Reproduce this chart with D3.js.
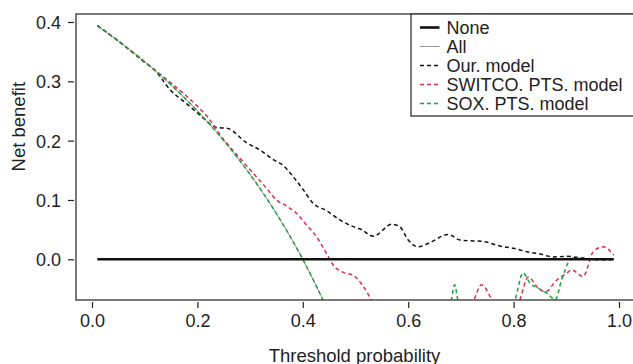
<!DOCTYPE html>
<html>
<head>
<meta charset="utf-8">
<script src="https://cdn.jsdelivr.net/npm/d3@7"></script>
<style>
  body { margin: 0; background: #fff; }
  text { font-family: "Liberation Sans", Arial, sans-serif; fill: #222; }
</style>
</head>
<body>
<svg id="chart"></svg>
<script>
// values, [threshold, net benefit]
const xTicks = [0, 0.2, 0.4, 0.6, 0.8, 1.0]
const yTicks = [0, 0.1, 0.2, 0.3, 0.4]

const noneLine = [[0.01, 0], [0.99, 0]]

const allLine = [[0.01, 0.394], [0.05, 0.368], [0.1, 0.333], [0.15, 0.294], [0.2, 0.25],
  [0.25, 0.2], [0.3, 0.143], [0.35, 0.077], [0.375, 0.04], [0.4, 0.0], [0.425, -0.044], [0.45, -0.09]]

const ourModel = [[0.01, 0.394], [0.05, 0.368], [0.1, 0.332], [0.12, 0.318], [0.148, 0.286],
  [0.18, 0.262], [0.205, 0.243], [0.237, 0.222], [0.256, 0.221], [0.294, 0.196], [0.319, 0.184],
  [0.344, 0.168], [0.363, 0.158], [0.382, 0.139], [0.401, 0.117], [0.42, 0.094], [0.445, 0.082],
  [0.471, 0.066], [0.496, 0.055], [0.509, 0.051], [0.534, 0.039], [0.569, 0.059], [0.584, 0.055],
  [0.6, 0.0325], [0.619, 0.021], [0.641, 0.028], [0.676, 0.042], [0.698, 0.0325], [0.724, 0.031],
  [0.743, 0.03], [0.774, 0.0224], [0.8, 0.0185], [0.825, 0.0128], [0.85, 0.009], [0.875, 0.004],
  [0.9, 0.005], [0.932, 0.002], [0.97, -0.001], [0.99, 0.0]]

const switcoModel = [[0.01, 0.394], [0.05, 0.368], [0.1, 0.333], [0.15, 0.297], [0.173, 0.28],
  [0.2, 0.258], [0.218, 0.241], [0.249, 0.203], [0.275, 0.176], [0.306, 0.145], [0.331, 0.12],
  [0.35, 0.1], [0.369, 0.09], [0.388, 0.0775], [0.407, 0.058], [0.426, 0.038], [0.445, 0.01],
  [0.458, -0.01], [0.477, -0.022], [0.496, -0.027], [0.515, -0.046], [0.535, -0.075],
  [0.6, -0.12], [0.7, -0.11], [0.724, -0.07], [0.739, -0.043], [0.76, -0.07], [0.78, -0.1],
  [0.805, -0.085], [0.812, -0.068], [0.828, -0.03], [0.847, -0.049], [0.86, -0.055],
  [0.882, -0.035], [0.9, -0.024], [0.91, -0.018], [0.932, -0.029], [0.951, 0.0128],
  [0.97, 0.021], [0.99, 0.007]]

const soxModel = [[0.01, 0.394], [0.05, 0.368], [0.1, 0.333], [0.15, 0.294], [0.2, 0.25],
  [0.25, 0.2], [0.3, 0.143], [0.35, 0.077], [0.375, 0.04], [0.4, 0.0], [0.425, -0.044],
  [0.45, -0.09], [0.5, -0.15], [0.66, -0.15], [0.682, -0.068], [0.688, -0.043], [0.694, -0.068],
  [0.71, -0.13], [0.78, -0.13], [0.803, -0.068], [0.818, -0.023], [0.831, -0.04], [0.847, -0.049],
  [0.863, -0.057], [0.879, -0.068], [0.891, -0.035], [0.907, -0.001], [0.913, 0.002],
  [0.95, 0.0], [0.99, 0.0]]

const legendLabels = ["None", "All", "Our. model", "SWITCO. PTS. model", "SOX. PTS. model"]

const width = 633, height = 364
const box = {left: 76, top: 14, right: 634, bottom: 300}

const svg = d3.select("#chart").attr("width", width).attr("height", height)

const x = d3.scaleLinear().domain([0, 1]).range([92, 619])
const y = d3.scaleLinear().domain([0, 0.4]).range([259.3, 22])

svg.append("clipPath").attr("id", "plotclip")
  .append("rect")
  .attr("x", box.left).attr("y", box.top)
  .attr("width", box.right - box.left).attr("height", box.bottom - box.top)

// axes, R style: ticks detached from the box
const xAxis = svg.append("g")
  .attr("transform", `translate(0,${box.bottom + 2})`)
  .call(d3.axisBottom(x).tickValues(xTicks).tickSize(6).tickPadding(6).tickFormat(d3.format(".1f")))
xAxis.select(".domain").remove()
xAxis.selectAll("line").attr("stroke", "#222").attr("stroke-width", 1.2)
xAxis.selectAll("text").style("font-size", "18px").attr("dy", "0.72em")

const yAxis = svg.append("g")
  .attr("transform", `translate(${box.left - 2},0)`)
  .call(d3.axisLeft(y).tickValues(yTicks).tickSize(6).tickPadding(7).tickFormat(d3.format(".1f")))
yAxis.select(".domain").remove()
yAxis.selectAll("line").attr("stroke", "#222").attr("stroke-width", 1.2)
yAxis.selectAll("text").style("font-size", "18px").attr("dy", "0.36em")

const line = d3.line()
  .x(d => x(d[0]))
  .y(d => y(d[1]))
  .curve(d3.curveMonotoneX)

const plot = svg.append("g").attr("clip-path", "url(#plotclip)")

const series = [
  {data: allLine, color: "#999", width: 1, dash: null},
  {data: ourModel, color: "#111", width: 1.5, dash: "4,3"},
  {data: switcoModel, color: "#d9304f", width: 1.5, dash: "4,3"},
  {data: soxModel, color: "#22a03a", width: 1.5, dash: "4,3"},
  {data: noneLine, color: "#111", width: 2.6, dash: null}
]

series.forEach(s => {
  plot.append("path")
    .datum(s.data)
    .attr("d", line)
    .attr("fill", "none")
    .attr("stroke", s.color)
    .attr("stroke-width", s.width)
    .attr("stroke-dasharray", s.dash)
})

svg.append("rect")
  .attr("x", box.left).attr("y", box.top)
  .attr("width", box.right - box.left).attr("height", box.bottom - box.top)
  .attr("fill", "none").attr("stroke", "#333").attr("stroke-width", 1.3)

// legend
const legendStyles = [
  {color: "#111", width: 2.6, dash: null},
  {color: "#999", width: 1, dash: null},
  {color: "#111", width: 1.5, dash: "4,3"},
  {color: "#d9304f", width: 1.5, dash: "4,3"},
  {color: "#22a03a", width: 1.5, dash: "4,3"}
]

const legend = svg.append("g")
legend.append("rect")
  .attr("x", 411).attr("y", box.top)
  .attr("width", 240).attr("height", 102)
  .attr("fill", "#fff").attr("stroke", "#333").attr("stroke-width", 1.3)

const rows = legend.selectAll(".row").data(legendLabels).enter()
  .append("g")
  .attr("class", "row")
  .attr("transform", (d, i) => `translate(0,${27.5 + i * 19})`)

rows.append("line")
  .attr("x1", 420).attr("x2", 439.5)
  .attr("stroke", (d, i) => legendStyles[i].color)
  .attr("stroke-width", (d, i) => legendStyles[i].width)
  .attr("stroke-dasharray", (d, i) => legendStyles[i].dash)

rows.append("text")
  .attr("x", 446.5).attr("dy", "0.36em")
  .style("font-size", "18px")
  .text(d => d)

// axis titles
svg.append("text")
  .attr("x", 354.5).attr("y", 361.5)
  .attr("text-anchor", "middle")
  .style("font-size", "18.5px")
  .text("Threshold probability")

svg.append("text")
  .attr("transform", "translate(24.5,126.7) rotate(-90)")
  .attr("text-anchor", "middle")
  .style("font-size", "18.5px")
  .text("Net benefit")
</script>
</body>
</html>
